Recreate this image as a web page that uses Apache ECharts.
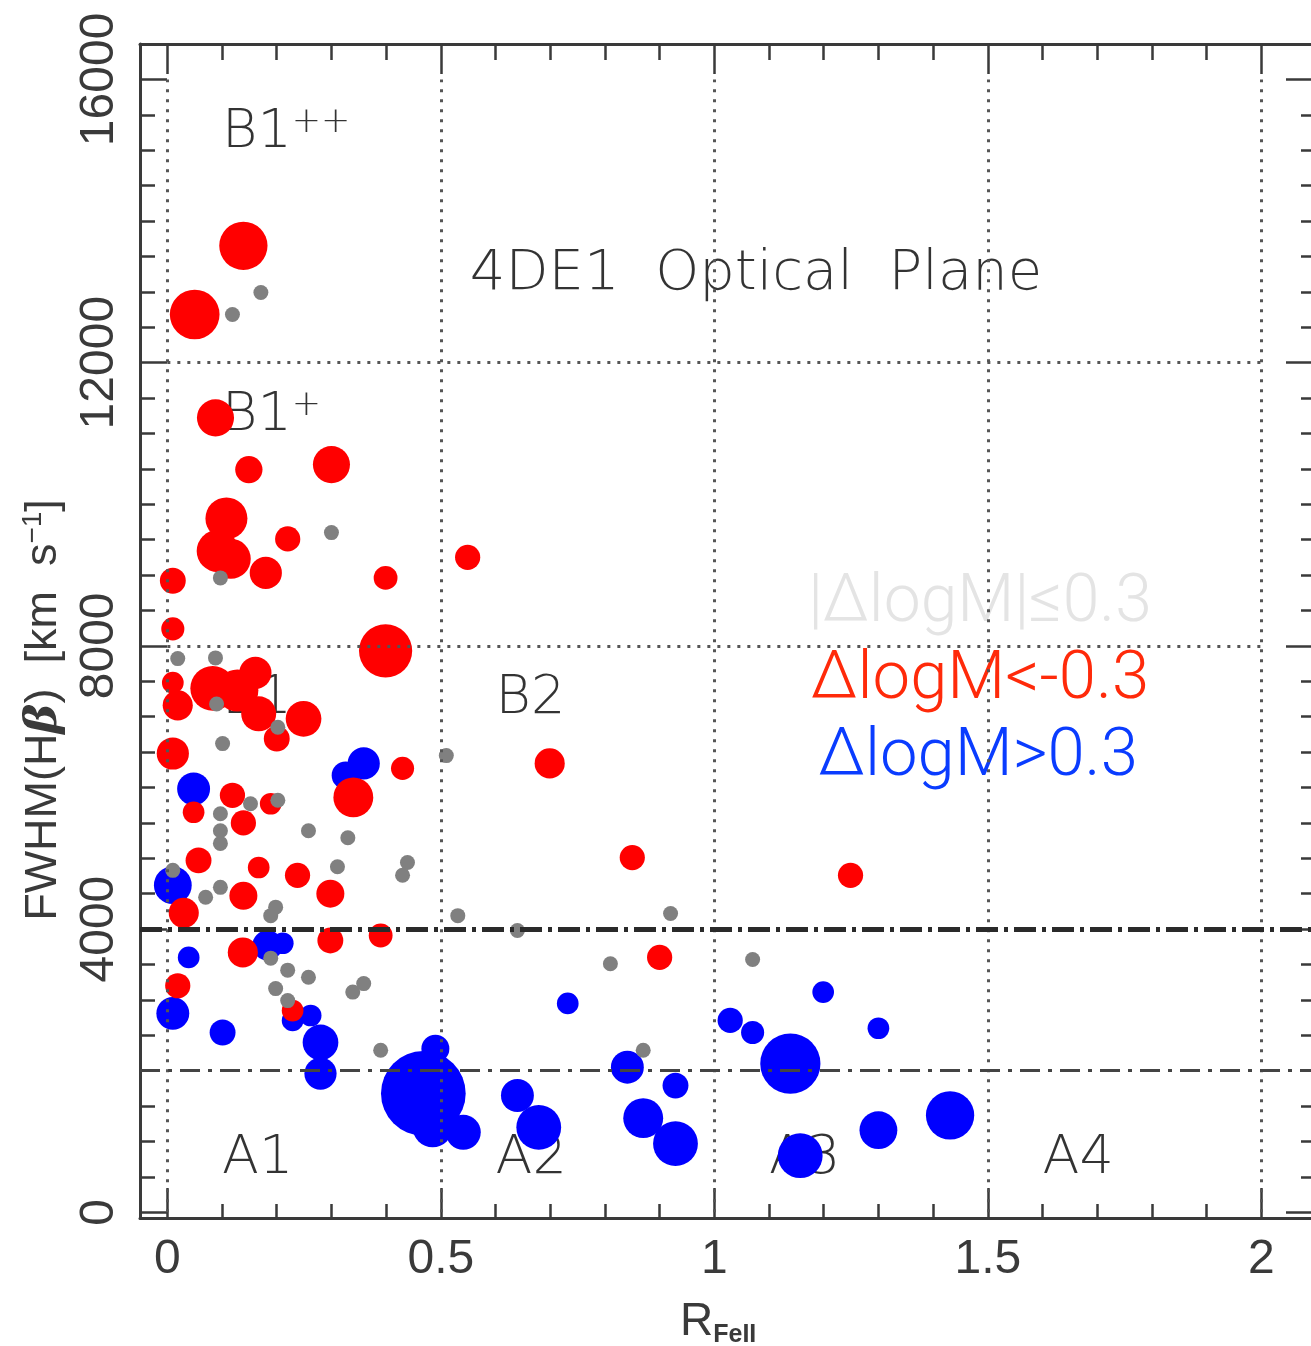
<!DOCTYPE html>
<html>
<head>
<meta charset="utf-8">
<script src="https://cdn.jsdelivr.net/npm/echarts@6/dist/echarts.min.js"></script>
<style>
  html, body { margin: 0; padding: 0; background: #ffffff; }
  #chart { width: 1311px; height: 1346px; }
</style>
</head>
<body>
<div id="chart"></div>
<script>
// Axis ticks
const xMajorTicks = [0, 0.5, 1, 1.5, 2];
const xMinorTicks = [0.1, 0.2, 0.3, 0.4, 0.6, 0.7, 0.8, 0.9, 1.1, 1.2, 1.3, 1.4, 1.6, 1.7, 1.8, 1.9];
const yMajorTicks = [0, 4000, 8000, 12000, 16000];
const yMinorTicks = [500, 1000, 1500, 2000, 2500, 3000, 3500, 4500, 5000, 5500, 6000, 6500, 7000, 7500,
  8500, 9000, 9500, 10000, 10500, 11000, 11500, 12500, 13000, 13500, 14000, 14500, 15000, 15500];

// Region boundaries of the 4DE1 optical plane
const dottedX = [0, 0.5, 1, 1.5, 2];
const dottedY = [8000, 12000];
const boundaryMain = 4000;
const boundaryBroad = 2000;

// Sources: [R_FeII, FWHM(Hbeta) km/s, DeltalogM]
const redPoints = [
  [0.139, 13650, -0.69], [0.050, 12680, -0.71], [0.088, 11220, -0.53], [0.149, 10490, -0.39],
  [0.300, 10560, -0.53], [0.108, 9800, -0.60], [0.220, 9510, -0.36], [0.092, 9340, -0.60],
  [0.116, 9230, -0.57], [0.180, 9030, -0.46], [0.010, 8920, -0.37], [0.399, 8960, -0.34],
  [0.549, 9250, -0.36], [0.010, 8240, -0.33], [0.399, 7930, -0.76], [0.010, 7480, -0.31],
  [0.019, 7160, -0.43], [0.083, 7400, -0.64], [0.128, 7370, -0.60], [0.161, 7620, -0.46],
  [0.167, 7040, -0.50], [0.249, 6970, -0.51], [0.200, 6690, -0.37], [0.010, 6480, -0.46],
  [0.340, 5860, -0.57], [0.430, 6270, -0.33], [0.699, 6340, -0.43], [0.048, 5650, -0.31],
  [0.119, 5890, -0.36], [0.139, 5500, -0.36], [0.189, 5770, -0.31], [0.057, 4970, -0.37],
  [0.167, 4870, -0.31], [0.238, 4760, -0.36], [0.139, 4470, -0.40], [0.298, 4500, -0.40],
  [0.030, 4230, -0.43], [0.298, 3840, -0.37], [0.390, 3910, -0.34], [0.138, 3670, -0.43],
  [0.019, 3200, -0.36], [0.229, 2850, -0.31], [0.850, 5010, -0.36], [1.249, 4760, -0.36],
  [0.900, 3600, -0.36]
];
const bluePoints = [
  [0.359, 6340, 0.46], [0.326, 6170, 0.40], [0.048, 5980, 0.47], [0.010, 4620, 0.54],
  [0.183, 3770, 0.43], [0.211, 3800, 0.31], [0.039, 3600, 0.31], [0.010, 2810, 0.47],
  [0.101, 2540, 0.37], [0.229, 2710, 0.31], [0.262, 2780, 0.31], [0.280, 2400, 0.51],
  [0.280, 1960, 0.46], [0.490, 2310, 0.40], [0.468, 1680, 1.21], [0.485, 1200, 0.57],
  [0.541, 1130, 0.50], [0.640, 1650, 0.47], [0.679, 1200, 0.64], [0.732, 2950, 0.31],
  [0.841, 2050, 0.47], [0.929, 1790, 0.37], [0.870, 1330, 0.57], [0.929, 970, 0.64],
  [1.029, 2710, 0.36], [1.070, 2540, 0.33], [1.199, 3110, 0.31], [1.300, 2600, 0.31],
  [1.139, 2100, 0.86], [1.157, 800, 0.64], [1.300, 1160, 0.54], [1.431, 1370, 0.69]
];
const grayPoints = [
  [0.119, 12680], [0.171, 12990], [0.300, 9600], [0.097, 8960], [0.019, 7820], [0.088, 7830],
  [0.090, 7180], [0.202, 6850], [0.101, 6620], [0.510, 6450], [0.152, 5770], [0.097, 5630],
  [0.202, 5820], [0.097, 5390], [0.097, 5210], [0.258, 5390], [0.330, 5290], [0.311, 4880],
  [0.439, 4940], [0.430, 4760], [0.010, 4830], [0.097, 4590], [0.070, 4450], [0.198, 4310],
  [0.189, 4190], [0.189, 3590], [0.220, 3420], [0.258, 3320], [0.198, 3160], [0.339, 3110],
  [0.359, 3230], [0.220, 2990], [0.390, 2290], [0.531, 4190], [0.640, 3980], [0.920, 4220],
  [0.810, 3510], [1.070, 3570], [0.870, 2290]
];

// Population labels and their anchor points
const regionNames = ['A1', 'A2', 'A3', 'A4', 'B1', 'B2', 'B1+', 'B1++'];
const regionAnchors = [[0.1, 750], [0.6, 750], [1.1, 750], [1.6, 750], [0.1, 7250], [0.6, 7250],
  [0.1, 11250], [0.1, 15250]];
const planeTitle = '4DE1  Optical  Plane';
const planeTitleAnchor = [0.553, 13250];

const legendTexts = ['|ΔlogM|≤0.3', 'ΔlogM<-0.3', 'ΔlogM>0.3'];

const X_MIN = -0.05, X_MAX = 2.1, Y_MIN = -80, Y_MAX = 16500;
const ink = '#3a3a3a';
const labelInk = '#000000';
const labelFont = 'DejaVu Sans';
const tickFont = 'Liberation Sans';

function xAxisDef(pos, ticks, len, withLine, withLabels) {
  return {
    type: 'value', gridIndex: 0, position: pos, min: X_MIN, max: X_MAX,
    axisLine: { show: withLine, onZero: false, lineStyle: { color: ink, width: 3 } },
    axisTick: { show: true, inside: true, length: len, customValues: ticks, lineStyle: { color: ink, width: 2.5 } },
    axisLabel: withLabels ? {
      show: true, customValues: ticks, margin: 18, color: ink, fontSize: 48, fontFamily: tickFont,
      formatter: v => String(v)
    } : { show: false },
    splitLine: { show: false }
  };
}
function yAxisDef(pos, ticks, len, withLine, withLabels) {
  return {
    type: 'value', gridIndex: 0, position: pos, min: Y_MIN, max: Y_MAX,
    axisLine: { show: withLine, onZero: false, lineStyle: { color: ink, width: 3 } },
    axisTick: { show: true, inside: true, length: len, customValues: ticks, lineStyle: { color: ink, width: 2.5 } },
    axisLabel: withLabels ? {
      show: true, customValues: ticks, rotate: 90, margin: 16, color: ink, fontSize: 48, fontFamily: tickFont,
      formatter: v => String(v)
    } : { show: false },
    splitLine: { show: false }
  };
}

// Boundary lines as mark lines
const dotStyle = { color: '#555555', width: 3, type: [3, 7] };
const boundaryLines = [];
dottedX.forEach(x => boundaryLines.push([{ coord: [x, 0], lineStyle: dotStyle }, { coord: [x, 16000] }]));
dottedY.forEach(y => boundaryLines.push([{ coord: [0, y], lineStyle: dotStyle }, { coord: [2, y] }]));
boundaryLines.push([{ coord: [X_MIN, boundaryMain], lineStyle: { color: '#2a2a2a', width: 5, type: [22, 6, 4, 6] } },
  { coord: [X_MAX, boundaryMain] }]);
boundaryLines.push([{ coord: [X_MIN, boundaryBroad], lineStyle: { color: '#444444', width: 3, type: [20, 8, 4, 8] } },
  { coord: [X_MAX, boundaryBroad] }]);

function regionText(name) {
  const m = name.match(/^(B1)(\++)$/);
  if (m) return '{m|' + m[1] + '}{s|' + m[2] + '}';
  if (name === planeTitle) return '{t|' + name + '}';
  return '{m|' + name + '}';
}

const labelData = regionNames.map((n, i) => ({ name: n, value: regionAnchors[i] }));
labelData.push({ name: planeTitle, value: planeTitleAnchor });

const chart = echarts.init(document.getElementById('chart'), null, { renderer: 'canvas' });
chart.setOption({
  animation: false,
  backgroundColor: '#ffffff',
  grid: { left: 140, top: 44, right: -5, bottom: 128, containLabel: false, outerBoundsMode: 'none' },
  xAxis: [
    xAxisDef('bottom', xMajorTicks, 30, true, true),
    xAxisDef('bottom', xMinorTicks, 14, false, false),
    xAxisDef('top', xMajorTicks, 30, true, false),
    xAxisDef('top', xMinorTicks, 16, false, false)
  ],
  yAxis: [
    yAxisDef('left', yMajorTicks, 27, true, true),
    yAxisDef('left', yMinorTicks, 15, false, false),
    yAxisDef('right', yMajorTicks, 30, true, false),
    yAxisDef('right', yMinorTicks, 15, false, false)
  ],
  series: [
    {
      name: 'regions', type: 'scatter', z: 1, xAxisIndex: 0, yAxisIndex: 0,
      symbolSize: 0, silent: true,
      data: labelData,
      label: {
        show: true, position: [0, 0], align: 'left', verticalAlign: 'middle',
        formatter: p => regionText(p.name),
        rich: {
          m: { fontSize: 54, fontFamily: labelFont, fontWeight: 200, color: labelInk },
          t: { fontSize: 56, fontFamily: labelFont, fontWeight: 200, color: labelInk },
          s: { fontSize: 35, fontFamily: labelFont, fontWeight: 200, color: labelInk, padding: [0, 0, 20, 0] }
        }
      },
      markLine: { silent: true, symbol: 'none', label: { show: false }, data: boundaryLines }
    },
    {
      name: 'ΔlogM>0.3', type: 'scatter', z: 2, data: bluePoints,
      symbolSize: v => Math.abs(v[2]) * 70,
      itemStyle: { color: '#0000ff', opacity: 1 }
    },
    {
      name: 'ΔlogM<-0.3', type: 'scatter', z: 3, data: redPoints,
      symbolSize: v => Math.abs(v[2]) * 70,
      itemStyle: { color: '#ff0000', opacity: 1 }
    },
    {
      name: '|ΔlogM|≤0.3', type: 'scatter', z: 4, data: grayPoints,
      symbolSize: 15,
      itemStyle: { color: '#808080', opacity: 1 }
    }
  ],
  graphic: [
    {
      type: 'text', x: 44, y: 710, rotation: Math.PI / 2, silent: true,
      style: {
        text: '{t|FWHM(H}{b|β}{t|)  [km  s}{s|−1}{t|]}',
        align: 'center', verticalAlign: 'middle',
        rich: {
          t: { fontSize: 45, fontFamily: tickFont, fill: ink },
          b: { fontSize: 45, fontFamily: 'DejaVu Serif', fontStyle: 'italic', fontWeight: 'bold', fill: ink },
          s: { fontSize: 28, fontFamily: tickFont, fill: ink, padding: [0, 0, 22, 0] }
        }
      }
    },
    {
      type: 'text', x: 680, y: 1322, silent: true,
      style: {
        text: '{r|R}{f|FeII}', align: 'left', verticalAlign: 'middle',
        rich: {
          r: { fontSize: 46, fontFamily: tickFont, fill: ink },
          f: { fontSize: 25, fontFamily: tickFont, fontWeight: 'bold', fill: ink, padding: [26, 0, 0, 0] }
        }
      }
    },
    {
      type: 'text', x: 980, y: 604, silent: true,
      style: { text: legendTexts[0], align: 'center', verticalAlign: 'middle', fontSize: 66,
        fontFamily: 'Roboto', fontWeight: 300, fill: '#e4e4e4' }
    },
    {
      type: 'text', x: 980, y: 681, silent: true,
      style: { text: legendTexts[1], align: 'center', verticalAlign: 'middle', fontSize: 67,
        fontFamily: 'Roboto', fontWeight: 300, fill: '#ff2a0a' }
    },
    {
      type: 'text', x: 978, y: 758, silent: true,
      style: { text: legendTexts[2], align: 'center', verticalAlign: 'middle', fontSize: 67,
        fontFamily: 'Roboto', fontWeight: 300, fill: '#0a3cff' }
    }
  ]
});
</script>
</body>
</html>
